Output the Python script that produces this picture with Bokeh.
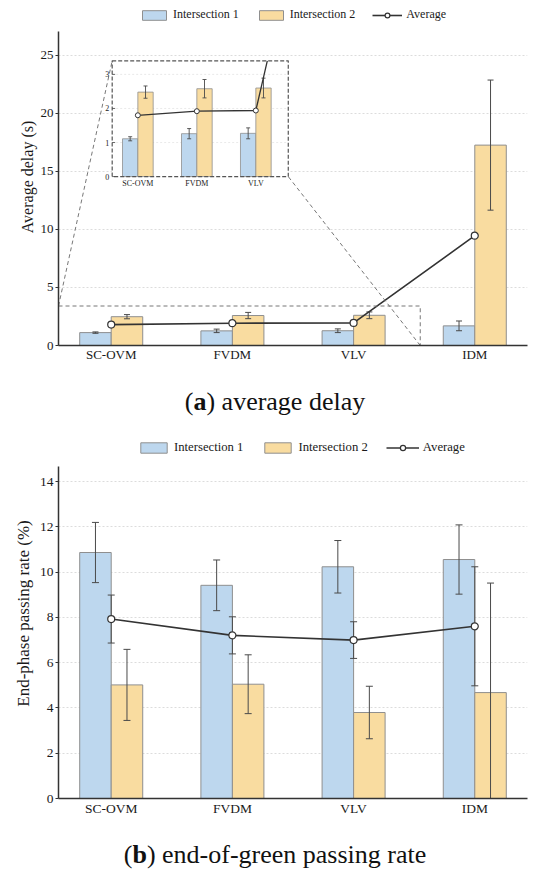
from bokeh.plotting import figure
from bokeh.models import (ColumnDataSource, Range1d, FixedTicker, Legend, LegendItem, Div)
from bokeh.layouts import column
from bokeh.transform import dodge
from bokeh.core.properties import value
from bokeh.embed import file_html
from bokeh.resources import INLINE

# ---------------- data ----------------
models = ["SC-OVM", "FVDM", "VLV", "IDM"]
x_pos = [0, 1, 2, 3]

delay_i1 = [1.11, 1.26, 1.27, 1.69]
delay_i1_err = [0.06, 0.15, 0.16, 0.42]
delay_i2 = [2.48, 2.58, 2.60, 17.25]
delay_i2_err = [0.18, 0.27, 0.29, 5.60]
delay_avg = [1.80, 1.92, 1.94, 9.45]

rate_i1 = [10.87, 9.42, 10.24, 10.56]
rate_i1_err = [1.33, 1.12, 1.16, 1.53]
rate_i2 = [5.02, 5.05, 3.80, 4.68]
rate_i2_err = [1.57, 1.30, 1.16, 4.84]
rate_avg = [7.93, 7.21, 7.00, 7.61]
rate_avg_err = [1.06, 0.82, 0.81, 2.63]

delay_ticks = [0, 5, 10, 15, 20, 25]
rate_ticks = [0, 2, 4, 6, 8, 10, 12, 14]
inset_ticks = [0, 1, 2, 3]
inset_n = 3  # categories shown in the zoomed inset

# ---------------- style ----------------
FONT = "Liberation Serif"
BLUE = "#bdd7ee"
ORANGE = "#f9dca0"
EDGE = "#8f8f8f"
DARK = "#333333"
ERR = "#4a4a4a"
BW = 0.26
XR = (-0.435, 3.435)

DELAY_AXIS = (0, 27)         # drawn extent of the y axis
DELAY_VIEW = (0, 29.01)      # extra room on top for the legend
RATE_AXIS = (0, 14.65)
RATE_VIEW = (0, 16.35)

ZOOM_X = (-0.435, 2.55)      # zoomed region (data units)
ZOOM_Y = (0.0, 3.4)
INSET_X = (0.008, 1.461)     # where the inset sits in the main chart
INSET_Y = (14.54, 24.51)


def style_axes(p, ylabel, tick_size, label_size, label_standoff, xstand):
    p.outline_line_color = None
    p.xgrid.visible = False
    p.ygrid.grid_line_color = "#dcdcdc"
    p.ygrid.grid_line_dash = "2 2"
    for ax in (p.xaxis[0], p.yaxis[0]):
        ax.axis_line_color = DARK
        ax.axis_line_width = 1.5
        ax.minor_tick_line_color = None
        ax.major_label_text_font = FONT
        ax.major_label_text_font_size = tick_size
        ax.major_label_text_color = "#1a1a1a"
    p.xaxis.ticker = FixedTicker(ticks=x_pos)
    p.xaxis.major_label_overrides = {x: m for x, m in zip(x_pos, models)}
    p.xaxis.major_tick_line_color = None
    p.xaxis.major_tick_out = 0
    p.xaxis.major_tick_in = 0
    p.xaxis.major_label_standoff = xstand
    p.yaxis.major_tick_out = 3
    p.yaxis.major_tick_in = 0
    p.yaxis.major_tick_line_color = DARK
    p.yaxis.major_tick_line_width = 1.2
    p.yaxis.major_label_standoff = 2
    p.yaxis.axis_label = ylabel
    p.yaxis.axis_label_text_font = FONT
    p.yaxis.axis_label_text_font_style = "normal"
    p.yaxis.axis_label_text_font_size = label_size
    p.yaxis.axis_label_text_color = "#1a1a1a"
    p.yaxis.axis_label_standoff = label_standoff


def add_errorbars(api, xfield, offset, lo, hi, cap, lw=1.0):
    src = ColumnDataSource(dict(x=xfield, lo=lo, hi=hi))
    xx = dodge("x", offset)
    api.segment(x0=xx, x1=xx, y0="lo", y1="hi", source=src, line_color=ERR, line_width=lw)
    api.scatter(x=xx, y="hi", marker="dash", size=cap, source=src, line_color=ERR, line_width=lw)
    api.scatter(x=xx, y="lo", marker="dash", size=cap, source=src, line_color=ERR, line_width=lw)


def make_legend(p, r1, r2, rl, loc, gw, gh, fsize, spacing):
    leg = Legend(items=[LegendItem(label="Intersection 1", renderers=[r1]),
                        LegendItem(label="Intersection 2", renderers=[r2]),
                        LegendItem(label="Average", renderers=rl)],
                 location=loc, orientation="horizontal", border_line_color=None,
                 background_fill_alpha=0, padding=0, margin=0, spacing=spacing,
                 label_standoff=4, glyph_width=gw, glyph_height=gh, label_height=gh,
                 label_text_font=FONT, label_text_font_size=fsize, label_text_color="#1a1a1a")
    p.add_layout(leg)


def caption(letter, rest, top, height):
    html = ('<div style="margin-top:%dpx;margin-left:8px;width:534px;line-height:26px;'
            'text-align:center;font-family:\'Liberation Serif\';font-size:26px;color:#111;">'
            '(<b>%s</b>) %s</div>') % (top, letter, rest)
    return Div(text=html, width=542, height=height, margin=0)


# ================= (a) average delay =================
p1 = figure(width=542, height=362, x_range=Range1d(*XR), y_range=Range1d(*DELAY_VIEW),
            output_backend="svg", toolbar_location=None, title=None,
            min_border_left=58, min_border_right=15, min_border_top=0, min_border_bottom=25)
style_axes(p1, "Average delay (s)", "13px", "16px", 2, 1)
p1.yaxis.ticker = FixedTicker(ticks=delay_ticks)
p1.yaxis.bounds = DELAY_AXIS

s1 = ColumnDataSource(dict(x=x_pos, i1=delay_i1, i2=delay_i2, avg=delay_avg))
b1 = p1.vbar(x=dodge("x", -BW / 2), top="i1", width=BW, source=s1, fill_color=BLUE, line_color=EDGE, line_width=1)
b2 = p1.vbar(x=dodge("x", BW / 2), top="i2", width=BW, source=s1, fill_color=ORANGE, line_color=EDGE, line_width=1)
add_errorbars(p1, x_pos, -BW / 2, [v - e for v, e in zip(delay_i1, delay_i1_err)],
              [v + e for v, e in zip(delay_i1, delay_i1_err)], 6)
add_errorbars(p1, x_pos, BW / 2, [v - e for v, e in zip(delay_i2, delay_i2_err)],
              [v + e for v, e in zip(delay_i2, delay_i2_err)], 6)
l1 = p1.line(x="x", y="avg", source=s1, line_color=DARK, line_width=1.6)
m1 = p1.scatter(x="x", y="avg", source=s1, marker="circle", size=7, fill_color="white",
                line_color=DARK, line_width=1.2)

# zoom rectangle and connectors
p1.quad(left=[ZOOM_X[0]], right=[ZOOM_X[1]], bottom=[ZOOM_Y[0]], top=[ZOOM_Y[1]], fill_color=None,
        line_color="#777777", line_width=1, line_dash="4 3")
p1.segment(x0=[ZOOM_X[0], ZOOM_X[1]], y0=[ZOOM_Y[1], ZOOM_Y[0]],
           x1=[INSET_X[0], INSET_X[1]], y1=[INSET_Y[1], INSET_Y[0]],
           line_color="#777777", line_width=1, line_dash="4 3")

# inset (sub-coordinates)
ins = p1.subplot(x_source=Range1d(*ZOOM_X), y_source=Range1d(*ZOOM_Y),
                 x_target=Range1d(*INSET_X), y_target=Range1d(*INSET_Y))
ins.quad(left=[ZOOM_X[0]], right=[ZOOM_X[1]], bottom=[ZOOM_Y[0]], top=[ZOOM_Y[1]],
         fill_color="white", line_color=None)
ins.segment(x0=[ZOOM_X[0]] * 3, x1=[ZOOM_X[1]] * 3, y0=inset_ticks[1:], y1=inset_ticks[1:],
            line_color="#e3e3e3", line_width=0.8, line_dash="2 2")
si = ColumnDataSource(dict(x=x_pos[:inset_n], i1=delay_i1[:inset_n], i2=delay_i2[:inset_n],
                           avg=delay_avg[:inset_n]))
ins.vbar(x=dodge("x", -BW / 2), top="i1", width=BW, source=si, fill_color=BLUE, line_color=EDGE, line_width=0.8)
ins.vbar(x=dodge("x", BW / 2), top="i2", width=BW, source=si, fill_color=ORANGE, line_color=EDGE, line_width=0.8)
add_errorbars(ins, x_pos[:inset_n], -BW / 2,
              [v - e for v, e in zip(delay_i1[:inset_n], delay_i1_err[:inset_n])],
              [v + e for v, e in zip(delay_i1[:inset_n], delay_i1_err[:inset_n])], 4, 0.9)
add_errorbars(ins, x_pos[:inset_n], BW / 2,
              [v - e for v, e in zip(delay_i2[:inset_n], delay_i2_err[:inset_n])],
              [v + e for v, e in zip(delay_i2[:inset_n], delay_i2_err[:inset_n])], 4, 0.9)


def clip_top(xs, ys, ymax):
    ox, oy = [xs[0]], [ys[0]]
    for xa, ya, xb, yb in zip(xs, ys, xs[1:], ys[1:]):
        if yb <= ymax:
            ox.append(xb)
            oy.append(yb)
        else:
            t = (ymax - ya) / (yb - ya)
            ox.append(xa + t * (xb - xa))
            oy.append(ymax)
            break
    return ox, oy


cx, cy = clip_top(x_pos, delay_avg, ZOOM_Y[1])
ins.line(x=cx, y=cy, line_color=DARK, line_width=1.3)
ins.scatter(x="x", y="avg", source=si, marker="circle", size=5, fill_color="white",
            line_color=DARK, line_width=1)
ins.quad(left=[ZOOM_X[0]], right=[ZOOM_X[1]], bottom=[ZOOM_Y[0]], top=[ZOOM_Y[1]], fill_color=None,
         line_color="#555555", line_width=1.2, line_dash="4 2")
ins.segment(x0=[ZOOM_X[0]] * 4, x1=[ZOOM_X[0] + 0.05] * 4, y0=inset_ticks, y1=inset_ticks,
            line_color="#444444", line_width=0.8)
ins.text(x=[ZOOM_X[0]] * 4, y=inset_ticks, text=[str(t) for t in inset_ticks], x_offset=-3,
         text_align="right", text_baseline="middle", text_font=value(FONT),
         text_font_size=value("8px"), text_color="#222222")
ins.text(x=x_pos[:inset_n], y=[0] * inset_n, text=models[:inset_n], y_offset=2,
         text_align="center", text_baseline="top", text_font=value(FONT),
         text_font_size=value("8px"), text_color="#222222")

make_legend(p1, b1, b2, [l1, m1], (81, 323), 30, 12, "12px", 17)

cap_a = caption("a", "average delay", 19, 58)

# ================= (b) end-of-green passing rate =================
p2 = figure(width=542, height=394, x_range=Range1d(*XR), y_range=Range1d(*RATE_VIEW),
            output_backend="svg", toolbar_location=None, title=None,
            min_border_left=48, min_border_right=0, min_border_top=0, min_border_bottom=24)
style_axes(p2, "End-phase passing rate (%)", "13.5px", "17px", 4, 2)
p2.yaxis.ticker = FixedTicker(ticks=rate_ticks)
p2.yaxis.bounds = RATE_AXIS

s2 = ColumnDataSource(dict(x=x_pos, i1=rate_i1, i2=rate_i2, avg=rate_avg))
c1 = p2.vbar(x=dodge("x", -BW / 2), top="i1", width=BW, source=s2, fill_color=BLUE, line_color=EDGE, line_width=1)
c2 = p2.vbar(x=dodge("x", BW / 2), top="i2", width=BW, source=s2, fill_color=ORANGE, line_color=EDGE, line_width=1)
add_errorbars(p2, x_pos, -BW / 2, [v - e for v, e in zip(rate_i1, rate_i1_err)],
              [v + e for v, e in zip(rate_i1, rate_i1_err)], 7)
add_errorbars(p2, x_pos, BW / 2, [v - e for v, e in zip(rate_i2, rate_i2_err)],
              [v + e for v, e in zip(rate_i2, rate_i2_err)], 7)
l2 = p2.line(x="x", y="avg", source=s2, line_color=DARK, line_width=1.6)
add_errorbars(p2, x_pos, 0, [v - e for v, e in zip(rate_avg, rate_avg_err)],
              [v + e for v, e in zip(rate_avg, rate_avg_err)], 7)
m2 = p2.scatter(x="x", y="avg", source=s2, marker="circle", size=7, fill_color="white",
                line_color=DARK, line_width=1.2)

make_legend(p2, c1, c2, [l2, m2], (79, 343), 33, 13, "12.7px", 18)

cap_b = caption("b", "end-of-green passing rate", 20, 48)

layout = column(p1, cap_a, p2, cap_b, spacing=0, margin=(8, 0, 0, 0))
open("out.html", "w").write(file_html(layout, INLINE))
